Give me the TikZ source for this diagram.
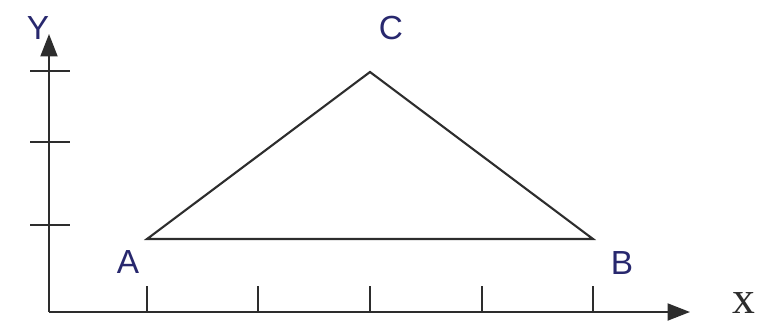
\documentclass[tikz,border=0pt]{standalone}
\usepackage{fontspec}
\setmainfont{Liberation Sans}
\newfontfamily\serifx{Liberation Serif}
\usetikzlibrary{arrows.meta, positioning}
\definecolor{labelblue}{RGB}{40,40,110}
\definecolor{linegray}{RGB}{45,45,45}

\begin{document}
\begin{tikzpicture}[
x=0.02cm, y=-0.02cm,
line/.style={draw=linegray, line width=1.2pt},
axis/.style={line, -{Triangle[length=4.5mm, width=3.4mm]}},
tick/.style={draw=linegray, line width=0.9pt},
ptlabel/.style={text=labelblue, font=\fontsize{19}{19}\selectfont, inner sep=0pt}
]

\useasboundingbox (0,0) rectangle (765,325);

% ------------------------
% Axes
% ------------------------
\coordinate (O) at (49,312);
\coordinate (xend) at (690,312);
\coordinate (yend) at (49,34);

\draw[axis] (O) -- (xend);
\draw[axis] (O) -- (yend);

\node[ptlabel] (ylab) at (38,28) {Y};
\node[text=linegray, font=\serifx\fontsize{26}{26}\selectfont, inner sep=0pt] (xlab) at (744,303) {x};

% ticks
\foreach \tx in {147,258,370,482,593}
  \draw[tick] (\tx,286) -- (\tx,312);
\foreach \ty in {71,142,225}
  \draw[tick] (30,\ty) -- (70,\ty);

% ------------------------
% Triangle
% ------------------------
\coordinate (A) at (147,239);
\coordinate (B) at (593,239);
\coordinate (C) at (370,72);

\draw[line, line join=miter] (A) -- (B) -- (C) -- cycle;

\node[ptlabel] (alab) at (128,262) {A};
\node[ptlabel] (blab) at (622,263) {B};
\node[ptlabel] (clab) at (391,28) {C};

\end{tikzpicture}
\end{document}
